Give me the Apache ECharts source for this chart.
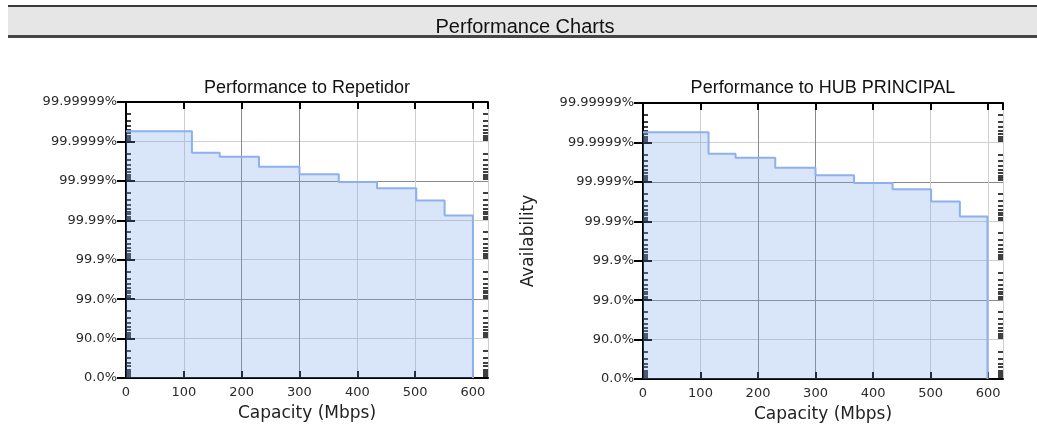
<!DOCTYPE html>
<html>
<head>
<meta charset="utf-8">
<script src="https://cdn.jsdelivr.net/npm/echarts@6/dist/echarts.min.js"></script>
<style>
html,body{margin:0;padding:0;background:#fff;}
#chart{width:1037px;height:442px;}
</style>
</head>
<body>
<div id="chart"></div>
<script>
// ---- data ----
const pageTitle = 'Performance Charts';
const chartTitles = ['Performance to Repetidor', 'Performance to HUB PRINCIPAL'];
const xAxisName = 'Capacity (Mbps)';
const yAxisName = 'Availability';

// capacity (Mbps) where each availability step begins
const capacityRepetidor = [0, 114, 162, 230, 300, 368, 434, 502, 551, 600];
// availability (%) of each step
const availabilityRepetidor = [99.999945, 99.999805, 99.999755, 99.999563, 99.999324, 99.99893, 99.99845, 99.99684, 99.99241, 0];

const capacityHub = [0, 114, 161, 230, 300, 367, 434, 501, 551, 599];
const availabilityHub = [99.999945, 99.999805, 99.999755, 99.999563, 99.999324, 99.99893, 99.99845, 99.99684, 99.99241, 0];

// y tick labels, indexed by number of "nines" decade (0 = 0.0%)
const yTickLabels = ['0.0%', '90.0%', '99.0%', '99.9%', '99.99%', '99.999%', '99.9999%', '99.99999%'];
const xTickStep = 100;
const xMin = 0;
const xMax = 626;

// ---- chart construction ----
const toUnavail = a => 1 - a / 100;
const seriesData = (caps, avs) => caps.map((c, i) => [c, toUnavail(avs[i])]);

const yMinU = Math.pow(10, -(yTickLabels.length - 1));
const yMaxU = 1;
const minorVals = [];
for (let k = 0; k < yTickLabels.length - 1; k++) {
  for (let m = 2; m <= 9; m++) minorVals.push(m * Math.pow(10, -(k + 1)));
}

const darkGrid = '#8a8a8a', lightGrid = '#cfcfcf';
const labelFont = 'DejaVu Sans';
const titleFont = 'Liberation Sans';

const grids = [
  { left: 126, top: 102, width: 362, height: 276 },
  { left: 643, top: 103, width: 360, height: 276 }
];

const xAxes = [], yAxes = [], series = [];
const datasets = [
  seriesData(capacityRepetidor, availabilityRepetidor),
  seriesData(capacityHub, availabilityHub)
];

grids.forEach((g, gi) => {
  xAxes.push({
    type: 'value', gridIndex: gi, min: xMin, max: xMax, interval: xTickStep, position: 'bottom',
    axisLine: { lineStyle: { color: '#000', width: 2 } },
    axisTick: { inside: true, length: 7, lineStyle: { color: '#000', width: 2 } },
    axisLabel: { showMaxLabel: false, fontSize: 13, fontFamily: labelFont, color: '#2a2a2a', margin: 8 },
    splitLine: { show: true, lineStyle: { color: [lightGrid, lightGrid, darkGrid, darkGrid, lightGrid, lightGrid, lightGrid, lightGrid], width: 1 } },
    name: xAxisName, nameLocation: 'middle', nameGap: 27,
    nameTextStyle: { fontSize: 17, fontFamily: labelFont, color: '#222' }
  });
  xAxes.push({
    type: 'value', gridIndex: gi, min: xMin, max: xMax, interval: xTickStep, position: 'top',
    axisLine: { lineStyle: { color: '#000', width: 2 } },
    axisTick: { inside: true, length: 7, lineStyle: { color: '#000', width: 2 } },
    axisLabel: { show: false }, splitLine: { show: false }
  });
  const yBase = {
    type: 'log', logBase: 10, gridIndex: gi, min: yMinU, max: yMaxU, inverse: true, splitNumber: 7
  };
  yAxes.push(Object.assign({}, yBase, {
    position: 'left',
    axisLine: { show: true, lineStyle: { color: '#000', width: 2 } },
    axisTick: { show: true, inside: true, length: 9, lineStyle: { color: '#000', width: 2 } },
    axisLabel: {
      fontSize: 13, fontFamily: labelFont, color: '#2a2a2a', margin: 9,
      formatter: v => yTickLabels[Math.round(-Math.log10(v))]
    },
    splitLine: { show: true, lineStyle: { color: [lightGrid, lightGrid, darkGrid, lightGrid, lightGrid, darkGrid, lightGrid, lightGrid], width: 1 } },
    name: gi === 1 ? yAxisName : '', nameLocation: 'middle', nameGap: 106,
    nameTextStyle: { fontSize: 17, fontFamily: labelFont, color: '#222' }
  }));
  yAxes.push(Object.assign({}, yBase, {
    position: 'right',
    axisLine: { show: true, lineStyle: { color: '#000', width: 2 } },
    axisTick: { show: true, inside: true, length: 9, lineStyle: { color: '#000', width: 2 } },
    axisLabel: { show: false }, splitLine: { show: false }
  }));
  ['left', 'right'].forEach(pos => {
    yAxes.push(Object.assign({}, yBase, {
      position: pos,
      axisLine: { show: false },
      axisTick: { show: true, inside: true, length: 5, customValues: minorVals, lineStyle: { color: '#000', width: 1.5 } },
      axisLabel: { show: false }, splitLine: { show: false }
    }));
  });
  series.push({
    type: 'line', xAxisIndex: gi * 2, yAxisIndex: gi * 4, step: 'end', symbol: 'none',
    lineStyle: { color: '#8db0ee', width: 2 },
    areaStyle: { color: 'rgb(120,160,230)', opacity: 0.28, origin: 'end' },
    data: datasets[gi]
  });
});

const chart = echarts.init(document.getElementById('chart'), null, { renderer: 'canvas' });
chart.setOption({
  animation: false,
  backgroundColor: '#ffffff',
  graphic: [
    { type: 'rect', shape: { x: 8, y: 5, width: 1029, height: 2 }, style: { fill: '#3a3a3a' } },
    { type: 'rect', shape: { x: 8, y: 7, width: 1029, height: 28 }, style: { fill: '#e6e6e6' } },
    { type: 'rect', shape: { x: 8, y: 35, width: 1029, height: 3 }, style: { fill: '#454545' } }
  ],
  title: [
    { text: pageTitle, left: 525, top: 17, textAlign: 'center', padding: 0,
      textStyle: { fontSize: 20, fontWeight: 'normal', fontFamily: titleFont, color: '#111' } },
    { text: chartTitles[0], left: 307, top: 79, textAlign: 'center', padding: 0,
      textStyle: { fontSize: 18, fontWeight: 'normal', fontFamily: titleFont, color: '#111' } },
    { text: chartTitles[1], left: 823, top: 79, textAlign: 'center', padding: 0,
      textStyle: { fontSize: 18, fontWeight: 'normal', fontFamily: titleFont, color: '#111' } }
  ],
  grid: grids,
  xAxis: xAxes,
  yAxis: yAxes,
  series: series
});
</script>
</body>
</html>
